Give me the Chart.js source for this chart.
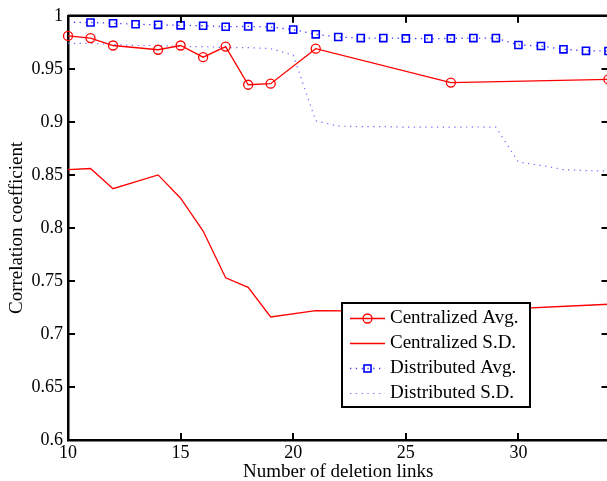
<!DOCTYPE html>
<html>
<head>
<meta charset="utf-8">
<script src="https://cdn.jsdelivr.net/npm/chart.js@4/dist/chart.umd.min.js"></script>
<style>
  html, body { margin: 0; padding: 0; background: #fff; overflow: hidden; }
  #wrap { width: 612px; height: 481px; }
</style>
</head>
<body>
<div id="wrap"><canvas id="c" width="612" height="481"></canvas></div>
<script>
// Number of deletion links sampled by each scheme
const centralizedX = [10, 11, 12, 14, 15, 16, 17, 18, 19, 21, 27, 34];
const distributedX = [10, 11, 12, 13, 14, 15, 16, 17, 18, 19, 20, 21, 22, 23, 24, 25, 26, 27, 28, 29, 30, 31, 32, 33, 34];

// Correlation coefficients
const centralizedAvg = [0.981, 0.979, 0.972, 0.968, 0.972, 0.961, 0.971, 0.935, 0.936, 0.969, 0.937, 0.940];
const centralizedSD  = [0.855, 0.856, 0.837, 0.850, 0.828, 0.797, 0.753, 0.744, 0.716, 0.722, 0.721, 0.728];
const distributedAvg = [0.994, 0.9937, 0.993, 0.992, 0.9915, 0.991, 0.9906, 0.9897, 0.990, 0.9894, 0.987, 0.9825,
                        0.980, 0.979, 0.979, 0.9787, 0.9784, 0.9787, 0.979, 0.979, 0.9725, 0.9715, 0.9684, 0.967, 0.9668];
const distributedSD  = [0.974, 0.974, 0.973, 0.972, 0.972, 0.971, 0.971, 0.970, 0.970, 0.969, 0.963, 0.901,
                        0.896, 0.8955, 0.8955, 0.895, 0.895, 0.895, 0.8952, 0.895, 0.862, 0.859, 0.855, 0.854, 0.8535];

const seriesNames = ['Centralized Avg.', 'Centralized S.D.', 'Distributed Avg.', 'Distributed S.D.'];

const xTickStep = 5;
const yTickStep = 0.05;

const SERIF = '"Liberation Serif", "Times New Roman", serif';

function pairs(xs, ys) { return xs.map((x, i) => ({ x: x, y: ys[i] })); }

// Inward tick marks plus the top and right edges of the axes box
const framePlugin = {
  id: 'frame',
  afterDraw(chart) {
    const { ctx, chartArea: a, scales } = chart;
    ctx.save();
    ctx.strokeStyle = '#000';
    ctx.lineWidth = 2.5;
    ctx.beginPath();
    ctx.moveTo(a.left, a.top); ctx.lineTo(a.right, a.top);
    ctx.moveTo(a.right, a.top); ctx.lineTo(a.right, a.bottom);
    ctx.stroke();
    ctx.lineWidth = 2;
    const len = 7;
    ctx.beginPath();
    scales.x.ticks.forEach(t => {
      const px = Math.round(scales.x.getPixelForValue(t.value));
      ctx.moveTo(px, a.bottom); ctx.lineTo(px, a.bottom - len);
      ctx.moveTo(px, a.top); ctx.lineTo(px, a.top + len);
    });
    scales.y.ticks.forEach(t => {
      const py = Math.round(scales.y.getPixelForValue(t.value));
      ctx.moveTo(a.left, py); ctx.lineTo(a.left + len, py);
      ctx.moveTo(a.right, py); ctx.lineTo(a.right - len, py);
    });
    ctx.stroke();
    ctx.restore();
  }
};

// Boxed legend sitting inside the plot area
const boxLegendPlugin = {
  id: 'boxLegend',
  afterDraw(chart) {
    const { ctx } = chart;
    const box = { x: 342, y: 303, w: 188, h: 104 };
    ctx.save();
    ctx.fillStyle = '#fff';
    ctx.fillRect(box.x, box.y, box.w, box.h);
    ctx.strokeStyle = '#000';
    ctx.lineWidth = 2;
    ctx.strokeRect(box.x, box.y, box.w, box.h);
    chart.data.datasets.forEach((ds, i) => {
      const y = box.y + 15.5 + i * 25;
      const x0 = 350, x1 = 385, xm = (x0 + x1) / 2;
      ctx.strokeStyle = ds.borderColor;
      ctx.lineWidth = ds.borderWidth;
      ctx.setLineDash(ds.borderDash || []);
      ctx.beginPath(); ctx.moveTo(x0, y); ctx.lineTo(x1, y); ctx.stroke();
      ctx.setLineDash([]);
      if (ds.legendMarker === 'circle') {
        ctx.strokeStyle = ds.pointBorderColor;
        ctx.lineWidth = ds.pointBorderWidth;
        ctx.beginPath(); ctx.arc(xm, y, 4.5, 0, Math.PI * 2); ctx.stroke();
      } else if (ds.legendMarker === 'rect') {
        ctx.strokeStyle = ds.pointBorderColor;
        ctx.lineWidth = ds.pointBorderWidth;
        ctx.strokeRect(xm - 3.5, y - 3.5, 7, 7);
      }
      ctx.fillStyle = '#000';
      ctx.font = '19px ' + SERIF;
      ctx.textBaseline = 'middle';
      ctx.textAlign = 'left';
      ctx.fillText(ds.label, 390, y);
    });
    ctx.restore();
  }
};

new Chart(document.getElementById('c'), {
  type: 'line',
  data: {
    datasets: [
      {
        label: seriesNames[0],
        data: pairs(centralizedX, centralizedAvg),
        borderColor: '#ff0000', borderWidth: 1.3,
        pointStyle: 'circle', pointRadius: 4.5,
        pointBorderColor: '#ff0000', pointBorderWidth: 1.3,
        pointBackgroundColor: 'rgba(0,0,0,0)',
        legendMarker: 'circle', clip: false
      },
      {
        label: seriesNames[1],
        data: pairs(centralizedX, centralizedSD),
        borderColor: '#ff0000', borderWidth: 1.3,
        pointRadius: 0, clip: false
      },
      {
        label: seriesNames[2],
        data: pairs(distributedX, distributedAvg),
        borderColor: '#3a3aff', borderWidth: 1.3, borderDash: [1.3, 4.5],
        pointStyle: 'rect',
        pointRadius: ctx => (ctx.dataIndex === 0 ? 0 : 5),
        pointBorderColor: '#0000ff', pointBorderWidth: 1.6,
        pointBackgroundColor: 'rgba(0,0,0,0)',
        legendMarker: 'rect', clip: false
      },
      {
        label: seriesNames[3],
        data: pairs(distributedX, distributedSD),
        borderColor: '#7070ff', borderWidth: 1.2, borderDash: [1.3, 4.5],
        pointRadius: 0, clip: false
      }
    ]
  },
  options: {
    responsive: false,
    animation: false,
    events: [],
    layout: { autoPadding: false, padding: { top: 14, right: 3.5, left: 0, bottom: 0 } },
    plugins: { legend: { display: false }, tooltip: { enabled: false } },
    elements: { line: { tension: 0 } },
    scales: {
      x: {
        type: 'linear', min: 10, max: 34,
        afterFit(s) { s.height = 41; s.paddingLeft = 0; s.paddingRight = 0; },
        ticks: {
          stepSize: xTickStep, includeBounds: false, padding: 2, maxRotation: 0,
          color: '#000', font: { family: SERIF, size: 18 }
        },
        grid: { display: false, drawTicks: false },
        border: { display: true, color: '#000', width: 2.5 },
        title: {
          display: true, text: 'Number of deletion links', color: '#000',
          font: { family: SERIF, size: 19 }, padding: { top: 0, bottom: -2 }
        }
      },
      y: {
        type: 'linear', min: 0.6, max: 1,
        afterFit(s) { s.width = 68; },
        ticks: {
          stepSize: yTickStep, padding: 5,
          color: '#000', font: { family: SERIF, size: 18 },
          callback: v => String(+v.toFixed(2))
        },
        grid: { display: false, drawTicks: false },
        border: { display: true, color: '#000', width: 2.5 },
        title: {
          display: true, text: 'Correlation coefficient', color: '#000',
          font: { family: SERIF, size: 19 }, padding: { top: 6, bottom: 0 }
        }
      }
    }
  },
  plugins: [framePlugin, boxLegendPlugin]
});
</script>
</body>
</html>
